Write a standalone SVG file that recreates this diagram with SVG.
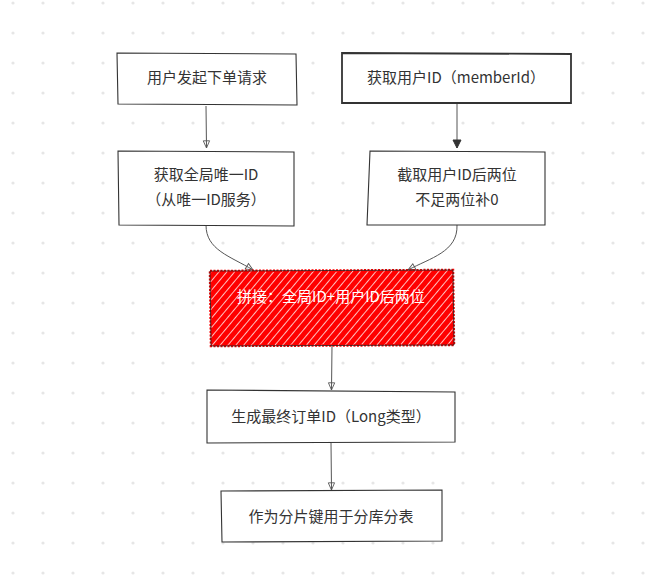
<svg xmlns="http://www.w3.org/2000/svg" width="645" height="588" viewBox="0 0 645 588">
<defs>
<pattern id="dots" x="0" y="0" width="30" height="30" patternUnits="userSpaceOnUse">
<circle cx="13" cy="3" r="1.6" fill="#e6e6e6"/>
</pattern>
<pattern id="hatch" width="6" height="6" patternUnits="userSpaceOnUse" patternTransform="rotate(40)">
<rect width="6" height="6" fill="#ff0000"/>
<line x1="0" y1="0" x2="0" y2="6" stroke="#ffffff" stroke-width="1.5"/>
</pattern>
<marker id="open" viewBox="0 0 10 10" refX="9" refY="5" markerWidth="9" markerHeight="9" orient="auto-start-reverse" markerUnits="userSpaceOnUse">
<path d="M1,1.5 L9,5 L1,8.5 Z" fill="none" stroke="#555" stroke-width="1"/>
</marker>
<marker id="filled" viewBox="0 0 10 10" refX="9" refY="5" markerWidth="10" markerHeight="10" orient="auto-start-reverse" markerUnits="userSpaceOnUse">
<path d="M1,1 L9,5 L1,9 Z" fill="#333" stroke="#333" stroke-width="1"/>
</marker>
</defs>
<style>
.box{fill:#ffffff;stroke:#333;stroke-width:1.1;}
.bold{stroke-width:1.8;}
.t{font-family:"Noto Sans CJK SC","Liberation Sans",sans-serif;font-size:15px;fill:#333;text-anchor:middle;}
.w{fill:#ffffff;}
.c{fill:none;stroke:#555;stroke-width:1;}
</style>
<rect width="645" height="588" fill="#ffffff"/>
<rect width="645" height="588" fill="url(#dots)"/>

<g id="connectors">
<path class="c" d="M206,106 L206.5,148" marker-end="url(#open)"/>
<path class="c" d="M457,104 L457,148" marker-end="url(#filled)"/>
<path class="c" d="M206,225 C206,250 230,256 253,270" marker-end="url(#open)"/>
<path class="c" d="M457,225 C458,252 430,258 408,270" marker-end="url(#open)"/>
<path class="c" d="M332,346 L331.5,390" marker-end="url(#open)"/>
<path class="c" d="M331,443 L331.5,490" marker-end="url(#open)"/>
</g>

<g id="n1">
<path class="box" d="M117,53 L296,54 L297,105 L118,104 Z"/>
<text class="t" x="207" y="83">用户发起下单请求</text>
</g>
<g id="n2">
<path class="box bold" d="M342,53 L571,54 L571,103 L342,103 Z"/>
<text class="t" x="456" y="83">获取用户ID（memberId）</text>
</g>
<g id="n3">
<path class="box" d="M118,151 L294,152 L294,226 L119,225 Z"/>
<text class="t" x="206" y="180">获取全局唯一ID</text>
<text class="t" x="206" y="205">（从唯一ID服务）</text>
</g>
<g id="n4">
<path class="box" d="M370,151 L545,152 L545,225 L367,225 Z"/>
<text class="t" x="457" y="180">截取用户ID后两位</text>
<text class="t" x="457" y="205">不足两位补0</text>
</g>
<g id="n5">
<path d="M210,271 L453,270 L454,345 L211,346 Z" fill="url(#hatch)" stroke="#ff0000" stroke-width="2.5" stroke-dasharray="2 1.5"/>
<path d="M210,271 L453,270 L454,345 L211,346 Z" fill="none" stroke="#222" stroke-width="0.8"/>
<text class="t w" x="331" y="302">拼接：全局ID+用户ID后两位</text>
</g>
<g id="n6">
<path class="box" d="M207,390 L455,392 L455,442 L207,443 Z"/>
<text class="t" x="331" y="422">生成最终订单ID（Long类型）</text>
</g>
<g id="n7">
<path class="box" d="M221,491 L442,490 L442,541 L222,542 Z"/>
<text class="t" x="331" y="522">作为分片键用于分库分表</text>
</g>
</svg>
